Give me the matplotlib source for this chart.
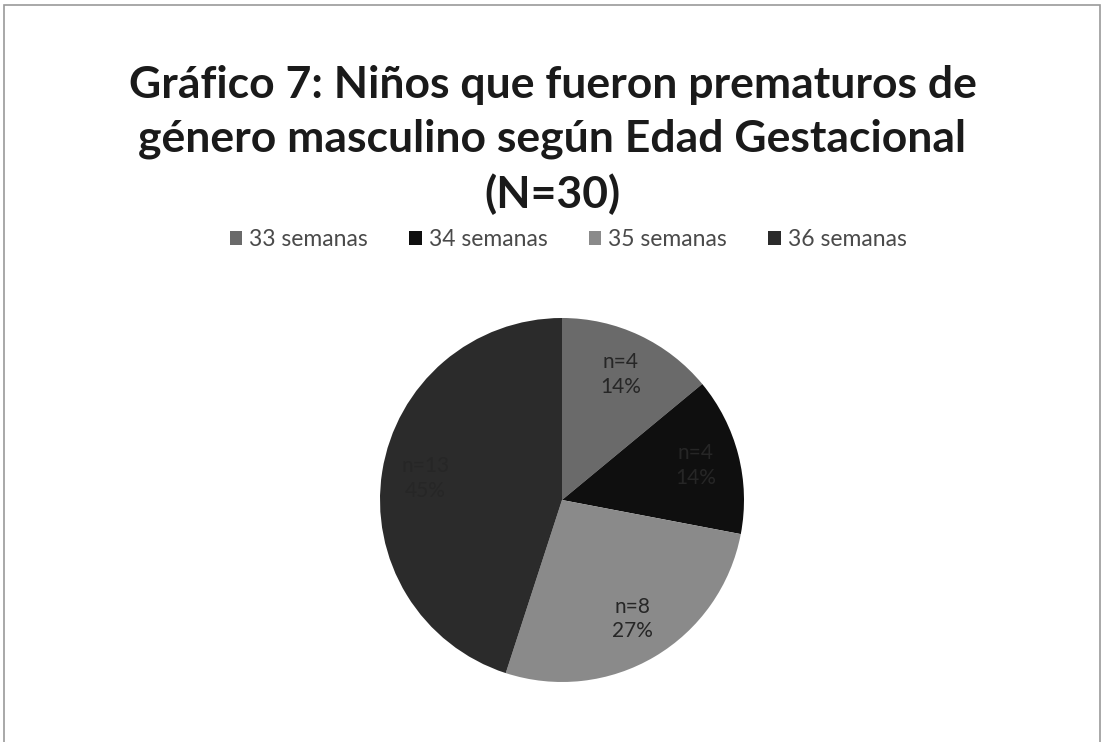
import matplotlib

matplotlib.use("Agg")
import matplotlib.pyplot as plt
import numpy as np
from matplotlib.patches import Rectangle

plt.rcParams["font.family"] = ["Lato", "DejaVu Sans"]

# Distribución por edad gestacional (varones prematuros)
categorias = ["33 semanas", "34 semanas", "35 semanas", "36 semanas"]
n_casos = [4, 4, 8, 13]
porcentajes = [14, 14, 27, 45]
colores = ["#6a6a6a", "#0f0f0f", "#8a8a8a", "#2b2b2b"]

titulo = "Gráfico 7: Niños que fueron prematuros de\ngénero masculino según Edad Gestacional\n(N=30)"

W, H = 1105, 742
fig = plt.figure(figsize=(W / 100, H / 100), dpi=100)
fig.patch.set_facecolor("white")

# marco del gráfico
fig.patches.append(
    Rectangle((4 / W, -0.01), (1100 - 4) / W, (H - 5) / H + 0.01,
              transform=fig.transFigure, fill=False, edgecolor="#9a9a9a", linewidth=1.2)
)

fig.text(0.5, (H - 140) / H, titulo, ha="center", va="center", fontsize=32,
         fontweight="bold", color="#1a1a1a", linespacing=1.42)

# pie
cx, cy, r = 562, 500, 182
ax = fig.add_axes([(cx - r) / W, (H - cy - r) / H, 2 * r / W, 2 * r / H])
wedges, _ = ax.pie(porcentajes, colors=colores, startangle=90, counterclock=False,
                   wedgeprops=dict(linewidth=0))
ax.set_xlim(-1, 1)
ax.set_ylim(-1, 1)
ax.set_aspect("equal")

etiquetas = [f"n={n}\n{p}%" for n, p in zip(n_casos, porcentajes)]
acum = np.cumsum([0] + porcentajes) / sum(porcentajes)
for i, txt in enumerate(etiquetas):
    mid = 90 - 360 * (acum[i] + acum[i + 1]) / 2
    rr = 0.76
    ax.text(rr * np.cos(np.radians(mid)), rr * np.sin(np.radians(mid)), txt,
            ha="center", va="center", fontsize=15, color="#262626", linespacing=1.3)

# leyenda
leg = fig.legend(wedges, categorias, loc="center", bbox_to_anchor=(568 / W, (H - 240) / H),
                 ncol=4, frameon=False, fontsize=16.5, handlelength=0.55, handleheight=0.55,
                 handletextpad=0.3, columnspacing=1.8)
for t in leg.get_texts():
    t.set_color("#4a4a4a")

fig.savefig("out.png", dpi=100)
